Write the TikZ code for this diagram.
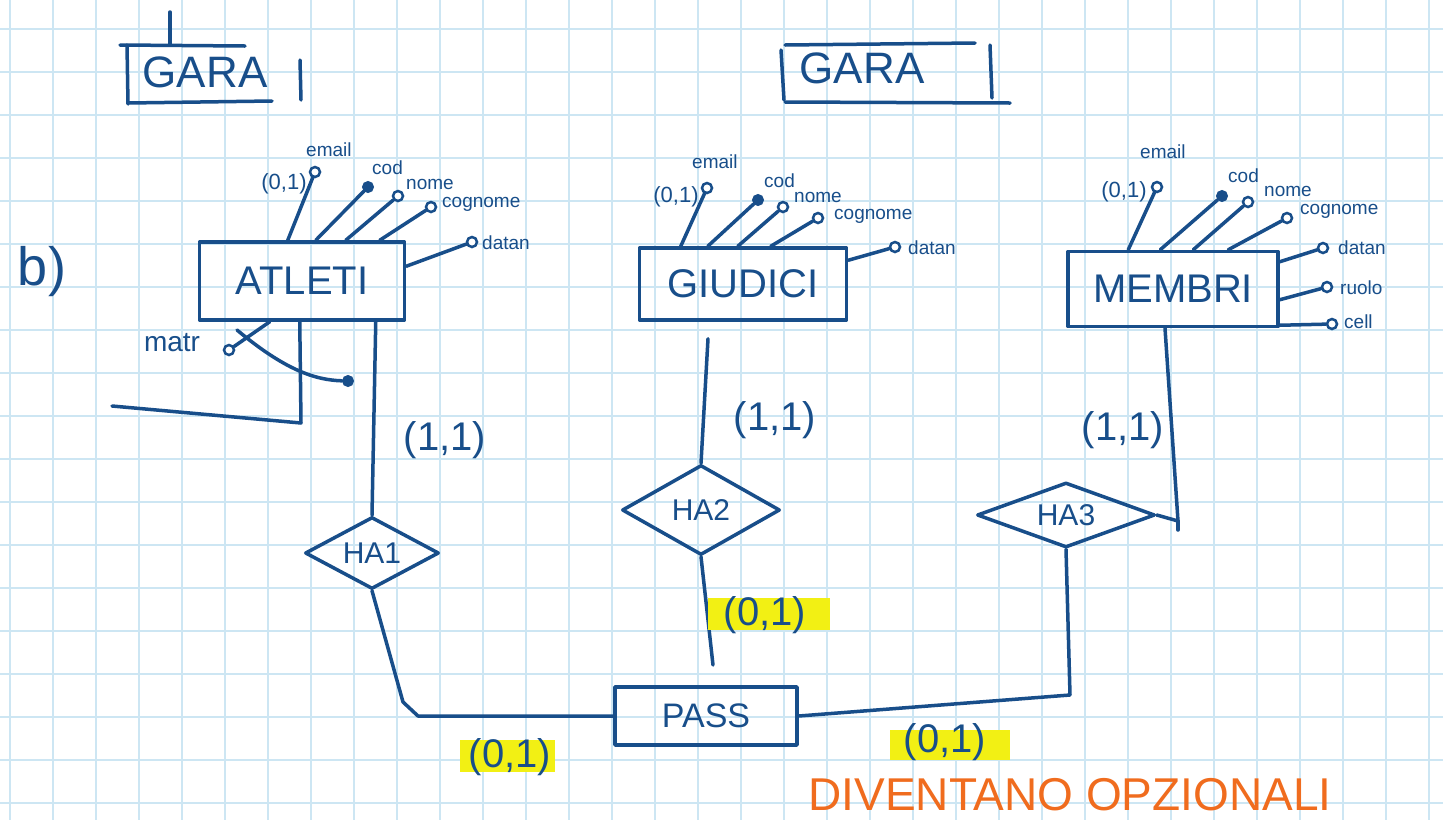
\documentclass[tikz,border=0pt]{standalone}
\usepackage{fontspec}
\setmainfont{Liberation Sans}
\usetikzlibrary{shapes.geometric,calc}
\definecolor{penblue}{RGB}{24,78,138}
\definecolor{gridc}{RGB}{205,230,243}
\definecolor{hlyellow}{RGB}{242,240,20}
\definecolor{orangec}{RGB}{240,108,30}
\newcommand{\fs}[1]{\fontsize{#1}{#1}\selectfont}
\tikzset{
  pen/.style={draw=penblue, line width=3.5pt, line cap=round, line join=round},
  entity/.style={pen, rectangle, inner sep=0pt, text=penblue, font=\fs{40}},
  rel/.style={pen, diamond, shape aspect=2, inner sep=0pt, text=penblue, font=\fs{30}},
  attro/.style={circle, draw=penblue, line width=2.5pt, fill=white, minimum size=10pt, inner sep=0pt},
  attrf/.style={circle, draw=penblue, fill=penblue, line width=1pt, minimum size=11pt, inner sep=0pt},
  lab/.style={text=penblue, font=\fs{19}, inner sep=0pt, anchor=west},
  smallcard/.style={text=penblue, font=\fs{22}, inner sep=0pt},
  card/.style={text=penblue, font=\fs{40}, inner sep=0pt},
  gridline/.style={draw=gridc, line width=1.5pt}
}
\begin{document}
\begin{tikzpicture}[x=1pt,y=-1pt]
\useasboundingbox (0,0) rectangle (1443,820);
\fill[white] (0,0) rectangle (1443,820);
% grid
\foreach \i in {0,...,33} \draw[gridline] ({10+43*\i},0) -- ({10+43*\i},820);
\foreach \j in {0,...,18} \draw[gridline] (0,{29+43*\j}) -- (1443,{29+43*\j});

% GARA boxes
\node[text=penblue, font=\fs{44}, inner sep=0pt] (gara1) at (205,72) {GARA};
\draw[pen] (170,12) -- (170,45);
\draw[pen] (120,45) -- (245,46);
\draw[pen] (127,45) -- (128,104);
\draw[pen] (128,103) -- (272,101);
\draw[pen] (300,60) -- (301,100);
\node[text=penblue, font=\fs{44}, inner sep=0pt] (gara2) at (862,68) {GARA};
\draw[pen] (785,45) -- (975,43);
\draw[pen] (781,50) -- (784,100);
\draw[pen] (990,45) -- (992,98);
\draw[pen] (785,102) -- (1010,103);

% b)
\node[text=penblue, font=\fs{54}, inner sep=0pt] (blabel) at (42,272) {b)};

% ATLETI
\node[entity, minimum width=205pt, minimum height=78pt] (atleti) at (302,281) {ATLETI};
\node[attro] (ae) at (315,172) {};
\node[attrf] (ac) at (368,187) {};
\node[attro] (an) at (398,196) {};
\node[attro] (acg) at (431,207) {};
\node[attro] (ad) at (472,242) {};
\draw[pen] ($(atleti.north west)+(90,0)$) -- (ae);
\draw[pen] ($(atleti.north west)+(118,0)$) -- (ac);
\draw[pen] ($(atleti.north west)+(148,0)$) -- (an);
\draw[pen] ($(atleti.north west)+(182,0)$) -- (acg);
\draw[pen] ($(atleti.north east)+(0,26)$) -- (ad);
\node[smallcard] (ae01) at (284,184) {(0,1)};
\node[lab] (lae) at (306,150) {email};
\node[lab] (lac) at (372,168) {cod};
\node[lab] (lan) at (406,184) {nome};
\node[lab] (lacg) at (442,204) {cognome};
\node[lab] (lad) at (482,243) {datan};

% matr
\node[attro] (matr) at (229,350) {};
\node[attrf] (mdot) at (348,381) {};
\node[text=penblue, font=\fs{28}, inner sep=0pt] (lmatr) at (172,343) {matr};
\coordinate (mstart) at (237,330);
\coordinate (mb1) at (301,423);
\coordinate (mb2) at (112,406);
\draw[pen] ($(atleti.south west)+(72,0)$) -- (matr);
\draw[pen] (mstart) .. controls (285,370) and (315,380) .. (mdot);
\draw[pen] ($(atleti.south west)+(102,0)$) -- (mb1) -- (mb2);

% GIUDICI
\node[entity, minimum width=207pt, minimum height=72pt] (giudici) at (743,284) {GIUDICI};
\node[attro] (ge) at (707,188) {};
\node[attrf] (gc) at (758,200) {};
\node[attro] (gn) at (783,207) {};
\node[attro] (gcg) at (818,218) {};
\node[attro] (gd) at (895,247) {};
\draw[pen] ($(giudici.north west)+(43,0)$) -- (ge);
\draw[pen] ($(giudici.north west)+(70,0)$) -- (gc);
\draw[pen] ($(giudici.north west)+(100,0)$) -- (gn);
\draw[pen] ($(giudici.north west)+(133,0)$) -- (gcg);
\draw[pen] ($(giudici.north east)+(0,14)$) -- (gd);
\node[smallcard] (ge01) at (676,197) {(0,1)};
\node[lab] (lge) at (692,162) {email};
\node[lab] (lgc) at (764,181) {cod};
\node[lab] (lgn) at (794,197) {nome};
\node[lab] (lgcg) at (834,216) {cognome};
\node[lab] (lgd) at (908,248) {datan};

% MEMBRI
\node[entity, minimum width=210pt, minimum height=75pt] (membri) at (1173,289) {MEMBRI};
\node[attro] (me) at (1157,187) {};
\node[attrf] (mc) at (1222,196) {};
\node[attro] (mn) at (1248,202) {};
\node[attro] (mcg) at (1287,218) {};
\node[attro] (md) at (1323,248) {};
\node[attro] (mr) at (1327,287) {};
\node[attro] (mce) at (1332,324) {};
\draw[pen] ($(membri.north west)+(62,0)$) -- (me);
\draw[pen] ($(membri.north west)+(94,0)$) -- (mc);
\draw[pen] ($(membri.north west)+(127,0)$) -- (mn);
\draw[pen] ($(membri.north west)+(162,0)$) -- (mcg);
\draw[pen] ($(membri.north east)+(0,12)$) -- (md);
\draw[pen] ($(membri.north east)+(0,50)$) -- (mr);
\draw[pen] ($(membri.south east)+(0,-3)$) -- (mce);
\node[smallcard] (me01) at (1124,192) {(0,1)};
\node[lab] (lme) at (1140,152) {email};
\node[lab] (lmc) at (1228,176) {cod};
\node[lab] (lmn) at (1264,191) {nome};
\node[lab] (lmcg) at (1300,211) {cognome};
\node[lab] (lmd) at (1338,248) {datan};
\node[lab] (lmr) at (1340,288) {ruolo};
\node[lab] (lmce) at (1344,322) {cell};

% relationships
\node[rel, minimum width=134pt, minimum height=72pt] (ha1) at (372,553) {HA1};
\node[rel, minimum width=158pt, minimum height=90pt] (ha2) at (701,510) {HA2};
\node[rel, minimum width=178pt, minimum height=65pt] (ha3) at (1066,515) {HA3};
\node[entity, minimum width=182pt, minimum height=58pt, font=\fs{34}] (pass) at (706,716) {PASS};

% connectors
\draw[pen] ($(atleti.south west)+(178,0)$) -- (ha1.north);
\coordinate (k1) at (403,702);
\coordinate (k2) at (418,716);
\draw[pen] (ha1.south) -- (k1) -- (k2) -- (pass.west);
\draw[pen] ($(giudici.south)+(-35,17)$) -- (ha2.north);
\coordinate (ha2end) at (713,665);
\draw[pen] (ha2.south) -- (ha2end);
\coordinate (m1) at (1178,521);
\coordinate (m2) at (1178,530);
\draw[pen] ($(membri.south)+(-8,0)$) -- (m1) -- (ha3.east);
\draw[pen] (m1) -- (m2);
\coordinate (k3) at (1070,695);
\draw[pen] (ha3.south) -- (k3) -- (pass.east);

% cardinalities
\node[card] (c1) at (445,440) {(1,1)};
\node[card] (c2) at (775,420) {(1,1)};
\node[card] (c3) at (1123,430) {(1,1)};
\fill[hlyellow] (708,598) rectangle (830,630);
\node[card] (c4) at (765,615) {(0,1)};
\fill[hlyellow] (460,740) rectangle (555,772);
\node[card] (c5) at (510,757) {(0,1)};
\fill[hlyellow] (890,730) rectangle (1010,760);
\node[card] (c6) at (945,742) {(0,1)};

% note
\node[text=orangec, font=\fs{46}, inner sep=0pt] (note) at (1070,795) {DIVENTANO OPZIONALI};
\end{tikzpicture}
\end{document}
